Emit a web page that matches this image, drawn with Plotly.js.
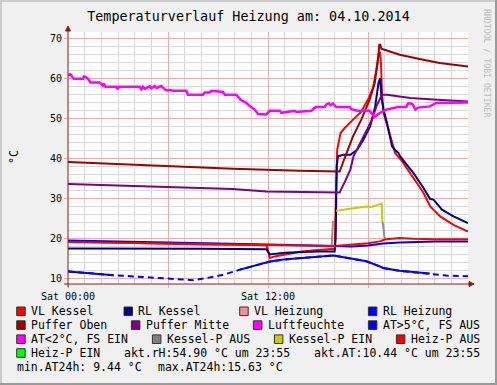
<!DOCTYPE html>
<html><head><meta charset="utf-8">
<script src="https://cdn.plot.ly/plotly-3.0.1.min.js"></script>
<style>html,body{margin:0;padding:0;background:#F0F0F0;}#chart{width:497px;height:385px;}</style>
</head><body><div id="chart"></div>
<script>
// ---------- DATA (hours since Sat 00:00, °C / %) ----------
const xTickVals = [0, 6, 12, 18];
const xTickText = ['Sat 00:00', '', 'Sat 12:00', ''];
const yTickVals = [10, 20, 30, 40, 50, 60, 70];

const vlKesselH = [0, 2, 4, 6, 8, 10, 11.9, 12.0, 12.1, 12.4, 13.0, 14.0, 15.0, 16.0, 16.08, 16.15, 16.35, 16.6, 17.1, 17.6, 18.0, 18.3, 18.5, 18.65, 18.72, 18.78, 18.84, 18.93, 19.23, 19.63, 20.04, 20.73, 21.33, 21.73, 22.33, 23.13, 24];
const vlKessel  = [19.1, 18.9, 18.7, 18.5, 18.4, 18.3, 18.2, 17.0, 15.0, 15.4, 15.9, 16.6, 17.0, 17.3, 30.0, 42.0, 46.2, 47.5, 49.6, 51.6, 54.6, 57.5, 62.0, 66.2, 66.5, 63.8, 56.2, 51.3, 47.1, 41.2, 39.2, 35.0, 31.3, 27.9, 25.4, 23.3, 21.6];

const rlKesselH = [0, 4, 8, 11.9, 12.0, 12.1, 13.0, 14.0, 15.0, 16.0, 16.06, 16.12, 16.2, 16.53, 16.94, 17.34, 17.73, 18.13, 18.43, 18.63, 18.73, 18.8, 18.93, 19.14, 19.44, 19.63, 19.83, 19.93, 20.73, 21.33, 21.73, 21.93, 22.44, 23.13, 24];
const rlKessel  = [17.4, 17.4, 17.3, 17.2, 16.6, 15.9, 16.3, 16.5, 16.6, 16.65, 20.0, 38.0, 40.4, 40.8, 40.8, 42.0, 44.6, 47.9, 52.9, 58.75, 60.0, 55.4, 52.1, 48.75, 42.9, 42.0, 41.25, 40.4, 36.25, 32.5, 29.75, 29.6, 27.1, 25.4, 23.7];

const rlHeizungH = [0, 4, 8, 12, 16, 17, 18, 18.9, 19.9, 20.7, 22, 24];
const rlHeizung  = [19.4, 19.1, 18.8, 18.4, 18.0, 17.9, 18.1, 18.6, 18.9, 19.0, 19.1, 19.1];

const vlHeizungH = [0, 4, 8, 12, 14, 16, 16.9, 18, 18.7, 19.0, 19.9, 20.7, 22, 24];
const vlHeizung  = [19.0, 18.7, 18.4, 18.2, 18.1, 18.0, 18.3, 18.7, 19.15, 19.6, 20.0, 19.8, 19.7, 19.7];

const pufferObenH = [0, 4.9, 9.9, 13.9, 16.06, 16.3, 16.6, 17.1, 17.6, 18.1, 18.4, 18.6, 18.68, 18.74, 18.8, 19.9, 21.1, 22.3, 24];
const pufferOben  = [39.0, 38.1, 37.3, 36.8, 36.5, 36.6, 40.0, 45.4, 49.6, 54.6, 58.7, 64.6, 68.3, 68.3, 67.3, 65.8, 64.75, 63.75, 62.9];

const pufferMitteH = [0, 4.9, 9.9, 11.9, 13.9, 16.3, 16.63, 16.74, 16.94, 17.13, 17.43, 17.83, 18.24, 18.54, 18.84, 19.14, 20.54, 21.93, 24];
const pufferMitte  = [33.5, 32.9, 32.25, 31.65, 31.5, 31.35, 34.2, 35.4, 37.1, 40.4, 42.9, 46.25, 49.6, 53.3, 55.8, 55.8, 55.0, 54.6, 54.15];

const luftH = [0, 0.15, 0.25, 0.35, 0.9, 0.95, 1.05, 1.2, 1.35, 1.9, 2.0, 2.08, 2.15, 2.25, 2.9, 2.95, 3.05, 4.3, 4.4, 4.5, 4.6, 4.9, 5.0, 5.2, 5.3, 5.6, 5.75, 5.9, 6.1, 6.3, 7.1, 7.2, 8.1, 8.2, 8.5, 8.6, 9.3, 9.4, 10.1, 10.2, 10.35, 10.5, 10.7, 10.85, 10.95, 11.1, 11.2, 11.4, 11.9, 12.05, 12.1, 12.7, 12.8, 13.6, 13.7, 14.6, 14.7, 14.85, 15.4, 15.5, 15.65, 15.75, 15.9, 16.0, 16.1, 16.9, 17.0, 17.4, 18.1, 18.2, 18.4, 18.5, 18.7, 19.1, 19.7, 19.8, 20.3, 20.4, 20.6, 20.7, 20.85, 21.0, 21.7, 22.0, 22.1, 24];
const luft  = [60.8, 60.9, 60.3, 59.8, 59.8, 60.4, 60.3, 59.8, 58.9, 58.9, 58.5, 58.1, 58.6, 57.8, 57.8, 57.2, 57.8, 57.8, 57.2, 57.8, 57.3, 57.9, 57.4, 58.0, 57.5, 58.0, 57.4, 56.9, 57.0, 56.8, 56.8, 55.8, 55.8, 56.4, 56.4, 56.8, 56.5, 55.8, 55.8, 55.2, 54.6, 54.2, 53.8, 53.2, 52.8, 52.4, 52.1, 51.0, 50.9, 51.4, 51.8, 51.8, 51.3, 51.8, 51.5, 51.8, 52.1, 52.75, 52.75, 53.4, 53.7, 53.2, 53.6, 53.1, 52.75, 52.75, 52.2, 51.8, 51.8, 51.2, 50.3, 50.6, 51.25, 52.1, 52.5, 52.75, 52.75, 53.6, 53.6, 53.3, 52.1, 52.6, 52.9, 53.5, 53.75, 53.9];

const atH = [0, 0.93, 1.93, 2.73, 3.93, 4.93, 5.93, 6.93, 7.53, 8.33, 9.32, 10.32, 11.32, 12.12, 12.92, 13.92, 15.0, 15.9, 16.1, 16.9, 17.9, 18.7, 18.9, 19.9, 20.7, 21.7, 22.7, 24];
const at  = [11.65, 11.3, 11.0, 10.7, 10.4, 10.15, 9.8, 9.5, 9.44, 10.0, 10.8, 12.1, 13.3, 14.1, 14.6, 15.0, 15.3, 15.63, 15.5, 15.0, 14.2, 12.9, 12.5, 11.8, 11.5, 11.1, 10.6, 10.44];

const kesselPAusH = [15.82, 15.86, 15.9, null, 18.86, 18.92, 18.98, 19.04];
const kesselPAus  = [17.9, 24.2, 24.3, null, 24.2, 22.9, 20.4, 19.6];
const kesselPEinH = [16.08, 16.55, 17.1, 17.9, 18.2, 18.5, 18.82, 18.86];
const kesselPEin  = [26.8, 27.1, 27.5, 27.9, 27.75, 28.2, 28.6, 24.2];

const legendLabels = ['VL Kessel', 'RL Kessel', 'VL Heizung', 'RL Heizung',
  'Puffer Oben', 'Puffer Mitte', 'Luftfeuchte', 'AT>5°C, FS AUS',
  'AT<2°C, FS EIN', 'Kessel-P AUS', 'Kessel-P EIN', 'Heiz-P AUS', 'Heiz-P EIN'];
const legendColors = ['#FF0000', '#000080', '#FF8899', '#0000FF',
  '#A00000', '#800080', '#FF00FF', '#0000FF',
  '#FF00FF', '#808080', '#CCCC00', '#FF0000', '#00FF00'];
const commentTexts = ['akt.rH:54.90 °C um 23:55', 'akt.AT:10.44 °C um 23:55',
  'min.AT24h: 9.44 °C', 'max.AT24h:15.63 °C'];
const titleText = 'Temperaturverlauf Heizung am: 04.10.2014';

// ---------- LAYOUT HELPERS ----------
const L = 68, T = 32, W = 400, H = 252;
const px = p => (p - L) / W;
const py = p => (T + H - p) / H;
const MONO = 'DejaVu Sans Mono';

function line(x, y, color, width, dash) {
  return {x: x, y: y, type: 'scatter', mode: 'lines', connectgaps: false,
    line: {color: color, width: width || 2, dash: dash || 'solid'}, hoverinfo: 'skip'};
}
const atSolid = at.map((v, i) => (atH[i] <= 2.9 || (atH[i] >= 10.3 && atH[i] <= 22.0)) ? v : null);

const traces = [
  line(vlKesselH, vlKessel, '#FF0000'),
  line(rlKesselH, rlKessel, '#000080'),
  line(rlHeizungH, rlHeizung, '#0000FF'),
  line(pufferObenH, pufferOben, '#A00000'),
  line(pufferMitteH, pufferMitte, '#800080'),
  line(luftH, luft, '#FF00FF', 2.5),
  line(atH, at, '#0000FF', 2, '6px,4px'),
  line(atH, atSolid, '#0000FF'),
  line(kesselPAusH, kesselPAus, '#909090'),
  line(kesselPEinH, kesselPEin, '#CCCC00'),
  line(vlHeizungH, vlHeizung, '#FF0000')
];

const shapes = [];
const annotations = [];
// canvas shading border
shapes.push({type:'rect', xref:'paper', yref:'paper', x0:px(0), x1:px(497), y0:py(2), y1:py(0), fillcolor:'#CBCBCB', line:{width:0}});
shapes.push({type:'rect', xref:'paper', yref:'paper', x0:px(0), x1:px(2), y0:py(385), y1:py(0), fillcolor:'#CBCBCB', line:{width:0}});
shapes.push({type:'rect', xref:'paper', yref:'paper', x0:px(495), x1:px(497), y0:py(385), y1:py(0), fillcolor:'#999999', line:{width:0}});
shapes.push({type:'rect', xref:'paper', yref:'paper', x0:px(0), x1:px(497), y0:py(385), y1:py(383), fillcolor:'#999999', line:{width:0}});
// axes with arrows
const AX = '#8B1A1A';
shapes.push({type:'line', xref:'paper', yref:'paper', x0:px(64), x1:px(470), y0:py(284), y1:py(284), line:{color:AX, width:1}});
shapes.push({type:'line', xref:'paper', yref:'paper', x0:px(68), x1:px(68), y0:py(287), y1:py(30), line:{color:AX, width:1}});
shapes.push({type:'path', xref:'paper', yref:'paper', fillcolor:AX, line:{color:AX, width:1},
  path:`M ${px(469)} ${py(281.5)} L ${px(474)} ${py(284)} L ${px(469)} ${py(286.5)} Z`});
shapes.push({type:'path', xref:'paper', yref:'paper', fillcolor:AX, line:{color:AX, width:1},
  path:`M ${px(65.5)} ${py(31)} L ${px(68)} ${py(26)} L ${px(70.5)} ${py(31)} Z`});

// legend
const rowY = [311.3, 325.1, 339.2, 353.0, 367.3];
const legendPos = [
  [0, 31], [0, 138.3], [0, 254], [0, 382.7],
  [1, 31], [1, 145.7], [1, 267.7], [1, 382.7],
  [2, 31], [2, 166.7], [2, 288.7], [2, 410.7],
  [3, 31]
];
legendLabels.forEach((lab, i) => {
  const r = legendPos[i][0], tx = legendPos[i][1];
  const sx = tx - 14.3, yc = rowY[r];
  shapes.push({type:'rect', xref:'paper', yref:'paper', x0:px(sx), x1:px(sx + 8.5), y0:py(yc + 4.3), y1:py(yc - 4.3),
    fillcolor: legendColors[i], line:{color:'#333333', width:1}});
  annotations.push({xref:'paper', yref:'paper', x:px(tx - 2), y:py(yc), xanchor:'left', yanchor:'middle',
    text: lab, showarrow:false, font:{family:MONO, size:11.5, color:'#000'}});
});
annotations.push({xref:'paper', yref:'paper', x:px(292), y:py(rowY[3]), xanchor:'right', yanchor:'middle',
  text: commentTexts[0], showarrow:false, font:{family:MONO, size:11.5, color:'#000'}});
annotations.push({xref:'paper', yref:'paper', x:px(482), y:py(rowY[3]), xanchor:'right', yanchor:'middle',
  text: commentTexts[1], showarrow:false, font:{family:MONO, size:11.5, color:'#000'}});
annotations.push({xref:'paper', yref:'paper', x:px(14.7), y:py(rowY[4]), xanchor:'left', yanchor:'middle',
  text: commentTexts[2], showarrow:false, font:{family:MONO, size:11.5, color:'#000'}});
annotations.push({xref:'paper', yref:'paper', x:px(156.3), y:py(rowY[4]), xanchor:'left', yanchor:'middle',
  text: commentTexts[3], showarrow:false, font:{family:MONO, size:11.5, color:'#000'}});
// y-axis unit
annotations.push({xref:'paper', yref:'paper', x:px(14), y:py(157), xanchor:'center', yanchor:'middle', textangle:-90,
  text:'°C', showarrow:false, font:{family:MONO, size:11.5, color:'#000'}});
// watermark
annotations.push({xref:'paper', yref:'paper', x:px(487), y:py(63), xanchor:'center', yanchor:'middle', textangle:90,
  text:'RRDTOOL / TOBI OETIKER', showarrow:false, font:{family:MONO, size:8.2, color:'#BDBDBD'}});

const MG = '#F2A9A9', GG = '#D8D8D8';
const layout = {
  width: 497, height: 385,
  margin: {l: L, r: 497 - L - W, t: T, b: 385 - T - H, pad: 0},
  paper_bgcolor: '#F0F0F0', plot_bgcolor: '#FFFFFF',
  showlegend: false,
  title: {text: titleText, font: {family: MONO, size: 13.4, color: '#000'},
    x: 0.5, xref: 'container', xanchor: 'center', y: 1 - 16.5 / 385, yref: 'container', yanchor: 'middle'},
  xaxis: {range: [0, 24], tickmode: 'array', tickvals: xTickVals, ticktext: xTickText,
    showgrid: true, gridcolor: MG, gridwidth: 1, zeroline: false, showline: false,
    ticks: 'outside', ticklen: 3, tickcolor: MG,
    tickfont: {family: MONO, size: 10, color: '#000'},
    minor: {tickmode: 'linear', tick0: 0, dtick: 1, showgrid: true, gridcolor: GG, gridwidth: 1, ticks: ''}},
  yaxis: {range: [8.5, 71.5], tickmode: 'array', tickvals: yTickVals, ticktext: yTickVals.map(String),
    showgrid: true, gridcolor: MG, gridwidth: 1, zeroline: false, showline: false,
    ticks: 'outside', ticklen: 3, tickcolor: MG,
    tickfont: {family: MONO, size: 10, color: '#000'},
    minor: {tickmode: 'linear', tick0: 0, dtick: 2, showgrid: true, gridcolor: GG, gridwidth: 1, ticks: ''}},
  shapes: shapes, annotations: annotations
};
Plotly.newPlot('chart', traces, layout, {staticPlot: true, displayModeBar: false});
</script></body></html>
